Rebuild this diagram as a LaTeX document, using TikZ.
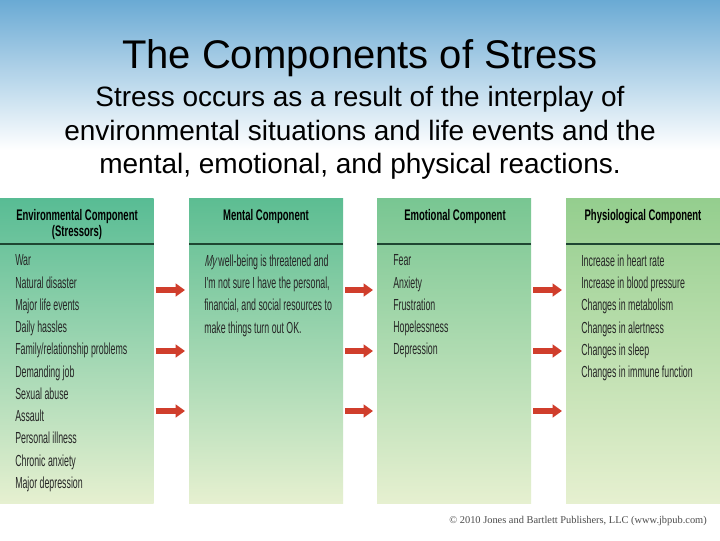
\documentclass[tikz,border=0pt]{standalone}
\usepackage{fontspec}
\usetikzlibrary{arrows.meta}
\setmainfont{Liberation Sans}
\newfontfamily\cond[FakeStretch=0.55]{Liberation Sans}
\newfontfamily\condit[FakeStretch=0.55,FakeSlant=0.2]{Liberation Sans}
\newfontfamily\condbf[FakeStretch=0.62]{Liberation Sans}
\newfontfamily\foot{Liberation Serif}
\definecolor{bgtop}{RGB}{106,170,212}
\definecolor{arrowred}{RGB}{208,62,44}
\definecolor{ruleg}{RGB}{30,70,50}
\definecolor{boxbot}{RGB}{230,240,208}
\definecolor{topa}{RGB}{88,188,148}
\definecolor{topb}{RGB}{92,189,146}
\definecolor{topc}{RGB}{120,198,146}
\definecolor{topd}{RGB}{148,206,142}
\tikzset{
  x=0.75pt,y=-0.75pt,
  panel/.style={shade,top color=#1,bottom color=boxbot,draw=none,minimum width=115.5pt,minimum height=229pt,anchor=north west,inner sep=0pt,outer sep=0pt},
  head/.style={anchor=center,align=center,text=black,inner sep=0pt,font=\condbf\bfseries\fontsize{11.5}{12}\selectfont},
  body/.style={anchor=north west,align=left,text=black!85,inner sep=0pt,font=\cond\fontsize{12}{16.7}\selectfont},
  rulel/.style={draw=ruleg,line width=0.8pt},
  arr/.style={draw=arrowred,line width=3.8pt,-{Triangle[length=7pt,width=9.5pt,fill=arrowred]},shorten >=0pt},
  ttl/.style={align=center,text=black,inner sep=0pt}
}
\begin{document}
\begin{tikzpicture}
\useasboundingbox (0,0) rectangle (720,540);
\fill[white] (0,0) rectangle (720,540);
\shade[top color=bgtop,bottom color=white] (0,0) rectangle (720,150);
\node[ttl,font=\fontsize{30}{36}\selectfont] (title) at (360,58) {The Components of Stress};
\node[ttl,font=\fontsize{21}{25}\selectfont] (sub) at (360,133) {Stress occurs as a result of the interplay of\\environmental situations and life events and the\\mental, emotional, and physical reactions.};

\node[panel=topa] (p1) at (-0.5,198) {};
\node[panel=topb] (p2) at (189,198) {};
\node[panel=topc] (p3) at (377,198) {};
\node[panel=topd] (p4) at (566,198) {};

\foreach \p in {p1,p2,p3,p4}{
  \draw[rulel] (\p.west |- 0,244) -- (\p.east |- 0,244);
}

\node[head] (h1) at (77,224.5) {Environmental Component\\(Stressors)};
\node[head] (h2) at (266,216.5) {Mental Component};
\node[head] (h3) at (455,216.5) {Emotional Component};
\node[head] (h4) at (643,216.5) {Physiological Component};

\node[body] (b1) at (15,254.5) {War\\Natural disaster\\Major life events\\Daily hassles\\Family/relationship problems\\Demanding job\\Sexual abuse\\Assault\\Personal illness\\Chronic anxiety\\Major depression};
\node[body] (b2) at (204,254.5) {{\condit My} well-being is threatened and\\I'm not sure I have the personal,\\financial, and social resources to\\make things turn out OK.};
\node[body] (b3) at (393,254.5) {Fear\\Anxiety\\Frustration\\Hopelessness\\Depression};
\node[body] (b4) at (581,254.5) {Increase in heart rate\\Increase in blood pressure\\Changes in metabolism\\Changes in alertness\\Changes in sleep\\Changes in immune function};

\foreach \a/\b/\n in {p1/p2/a,p2/p3/b,p3/p4/c}{
  \foreach \y/\m in {290/1,351/2,411/3}{
    \coordinate (\n\m s) at ([xshift=1.5pt]\a.east |- 0,\y);
    \coordinate (\n\m e) at ([xshift=-3pt]\b.west |- 0,\y);
    \draw[arr] (\n\m s) -- (\n\m e);
  }
}

\node[anchor=east,inner sep=0pt,text=black!70,font=\foot\fontsize{7.8}{10}\selectfont] (cr) at (707,521) {© 2010 Jones and Bartlett Publishers, LLC (www.jbpub.com)};
\end{tikzpicture}
\end{document}
